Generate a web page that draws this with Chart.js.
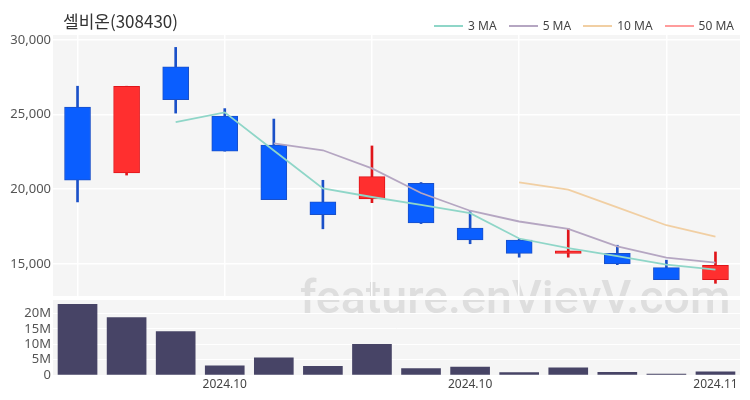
<!DOCTYPE html>
<html>
<head>
<meta charset="utf-8">
<script src="https://cdn.jsdelivr.net/npm/chart.js@4/dist/chart.umd.min.js"></script>
<style>
  html, body { margin: 0; padding: 0; background: #fff; }
  #wrap { position: relative; width: 750px; height: 400px; overflow: hidden; }
  #wrap canvas { position: absolute; left: 0; top: 0; }
  #title { position: absolute; left: 63px; top: 8px; font: 17px "Noto Sans CJK KR", "Noto Sans", sans-serif; color: #333; white-space: nowrap; }
  #legend { position: absolute; right: 16px; top: 17px; display: flex; align-items: center; font: 12px "Noto Sans", "Noto Sans CJK KR", sans-serif; color: #444; white-space: nowrap; }
  #legend .item { display: flex; align-items: center; margin-left: 12px; }
  #legend .sw { width: 29px; height: 2px; margin-right: 5px; }
</style>
</head>
<body>
<div id="wrap">
  <canvas id="price" width="750" height="400"></canvas>
  <canvas id="vol" width="750" height="400"></canvas>
  <div id="title"></div>
  <div id="legend"></div>
</div>
<script>
// ---------- data ----------
const chartTitle = '셀비온(308430)';
const categories = ['1','2','3','4','5','6','7','8','9','10','11','12','13','14'];
const tickLabels = ['', '', '', '2024.10', '', '', '', '', '2024.10', '', '', '', '', '2024.11'];
const openP  = [25500, 21100, 28200, 24900, 22950, 19150, 19350, 20400, 17400, 16600, 15700, 15700, 14750, 13950];
const closeP = [20600, 26900, 26000, 22550, 19300, 18300, 20850, 17750, 16600, 15700, 15870, 15000, 13950, 14900];
const highP  = [26900, 26900, 29500, 25400, 24700, 20600, 22900, 20450, 18500, 16650, 17350, 16250, 15250, 15800];
const lowP   = [19150, 20950, 25100, 22550, 19300, 17350, 19100, 17700, 16350, 15450, 15450, 14950, 13950, 13700];
const ma3  = [null, null, 24500, 25150, 22600, 20050, 19480, 18950, 18400, 16700, 16050, 15520, 14950, 14620];
const ma5  = [null, null, null, null, 23070, 22610, 21400, 19750, 18560, 17840, 17350, 16180, 15420, 15080];
const ma10 = [null, null, null, null, null, null, null, null, null, 20460, 19980, 18790, 17590, 16820];
const ma50 = [null, null, null, null, null, null, null, null, null, null, null, null, null, null];
const volume = [23.0e6, 18.7e6, 14.1e6, 2.95e6, 5.6e6, 2.8e6, 10.0e6, 2.1e6, 2.6e6, 0.75e6, 2.3e6, 0.85e6, 0.33e6, 1.0e6];
const priceTicks = [15000, 20000, 25000, 30000];
const volTicks = [0, 5e6, 10e6, 15e6, 20e6];
const maNames = ['3 MA', '5 MA', '10 MA', '50 MA'];
const watermark = 'feature.enVievV.com';

// ---------- styles ----------
const maColors = ['#8fd6c8', '#b5a6c2', '#f1cfa3', '#ff9c9c'];
const upFill = '#ff2f2f', upLine = '#e0151a';
const dnFill = '#0a5eff', dnLine = '#1a50c8';
const plotBg = '#f5f5f5';
const volColor = '#474466';
const fontFam = '"Noto Sans", "Noto Sans CJK KR", sans-serif';

document.getElementById('title').textContent = chartTitle;
const lg = document.getElementById('legend');
maNames.forEach((n, i) => {
  const it = document.createElement('div'); it.className = 'item';
  const sw = document.createElement('div'); sw.className = 'sw'; sw.style.background = maColors[i];
  const tx = document.createElement('span'); tx.textContent = n;
  it.appendChild(sw); it.appendChild(tx); lg.appendChild(it);
});

const isUp = openP.map((o, i) => closeP[i] >= o);
const bgPlugin = {
  id: 'bg',
  beforeDraw(chart) {
    const a = chart.chartArea, c = chart.ctx;
    c.save();
    c.fillStyle = plotBg; c.fillRect(a.left, a.top, a.right - a.left, a.bottom - a.top);
    c.beginPath(); c.rect(a.left, a.top, a.right - a.left, a.bottom - a.top); c.clip();
    c.font = '500 45px Roboto, ' + fontFam;
    const w = c.measureText(watermark).width;
    const size = 45 * 430 / w;
    c.font = '500 ' + size.toFixed(1) + 'px Roboto, ' + fontFam;
    c.fillStyle = '#dedede';
    c.textAlign = 'left'; c.textBaseline = 'alphabetic';
    c.fillText(watermark, 300, 313);
    c.restore();
  }
};

const yWidth = 53;

new Chart(document.getElementById('price'), {
  type: 'bar',
  data: {
    labels: categories,
    datasets: [
      ...[ma3, ma5, ma10, ma50].map((d, i) => ({
        type: 'line', label: maNames[i], data: d, borderColor: maColors[i], borderWidth: 1.8,
        pointRadius: 0, tension: 0, spanGaps: false, order: 0
      })),
      {
        label: 'body', data: openP.map((o, i) => [o, closeP[i]]),
        backgroundColor: isUp.map(u => u ? upFill : dnFill),
        borderColor: isUp.map(u => u ? upLine : dnLine),
        borderWidth: 1, borderSkipped: false, barThickness: 26, grouped: false, order: 1
      },
      {
        label: 'wick', data: lowP.map((l, i) => [l, highP[i]]),
        backgroundColor: isUp.map(u => u ? upLine : dnLine),
        borderWidth: 0, barThickness: 2, grouped: false, order: 2
      }
    ]
  },
  options: {
    responsive: false, animation: false, devicePixelRatio: 1,
    layout: { padding: { top: 35, bottom: 104, left: 0, right: 10 } },
    plugins: { legend: { display: false }, tooltip: { enabled: false } },
    scales: {
      x: {
        grid: { offset: false, drawTicks: false, color: c => (c.index % 3 === 0 ? '#ffffff' : 'rgba(0,0,0,0)'), lineWidth: 1.5 },
        border: { display: false },
        ticks: { display: false, autoSkip: false }
      },
      y: {
        min: 12850, max: 30330,
        afterBuildTicks: s => { s.ticks = priceTicks.map(v => ({ value: v })); },
        afterFit: s => { s.width = yWidth; },
        grid: { color: '#ffffff', lineWidth: 1.5, drawTicks: false },
        border: { display: false },
        ticks: { padding: 2, color: '#555', font: { family: fontFam, size: 13 }, callback: v => v.toLocaleString('en-US') }
      }
    }
  },
  plugins: [bgPlugin]
});

new Chart(document.getElementById('vol'), {
  type: 'bar',
  data: {
    labels: categories,
    datasets: [{ label: 'volume', data: volume, backgroundColor: volColor, barThickness: 39 }]
  },
  options: {
    responsive: false, animation: false, devicePixelRatio: 1,
    layout: { padding: { top: 300, bottom: 0, left: 0, right: 10 } },
    plugins: { legend: { display: false }, tooltip: { enabled: false } },
    scales: {
      x: {
        afterFit: s => { s.height = 25; },
        grid: { display: false, drawTicks: false },
        border: { display: false },
        ticks: { autoSkip: false, maxRotation: 0, padding: 2, color: '#444', font: { family: fontFam, size: 12 }, callback: (v, i) => tickLabels[i] }
      },
      y: {
        min: 0, max: 24.4e6,
        afterBuildTicks: s => { s.ticks = volTicks.map(v => ({ value: v })); },
        afterFit: s => { s.width = yWidth; },
        grid: { color: '#ffffff', lineWidth: 1, drawTicks: false },
        border: { display: false },
        ticks: { padding: 2, color: '#555', font: { family: fontFam, size: 13 }, callback: v => (v === 0 ? '0' : (v / 1e6) + 'M') }
      }
    }
  },
  plugins: [bgPlugin]
});
</script>
</body>
</html>
